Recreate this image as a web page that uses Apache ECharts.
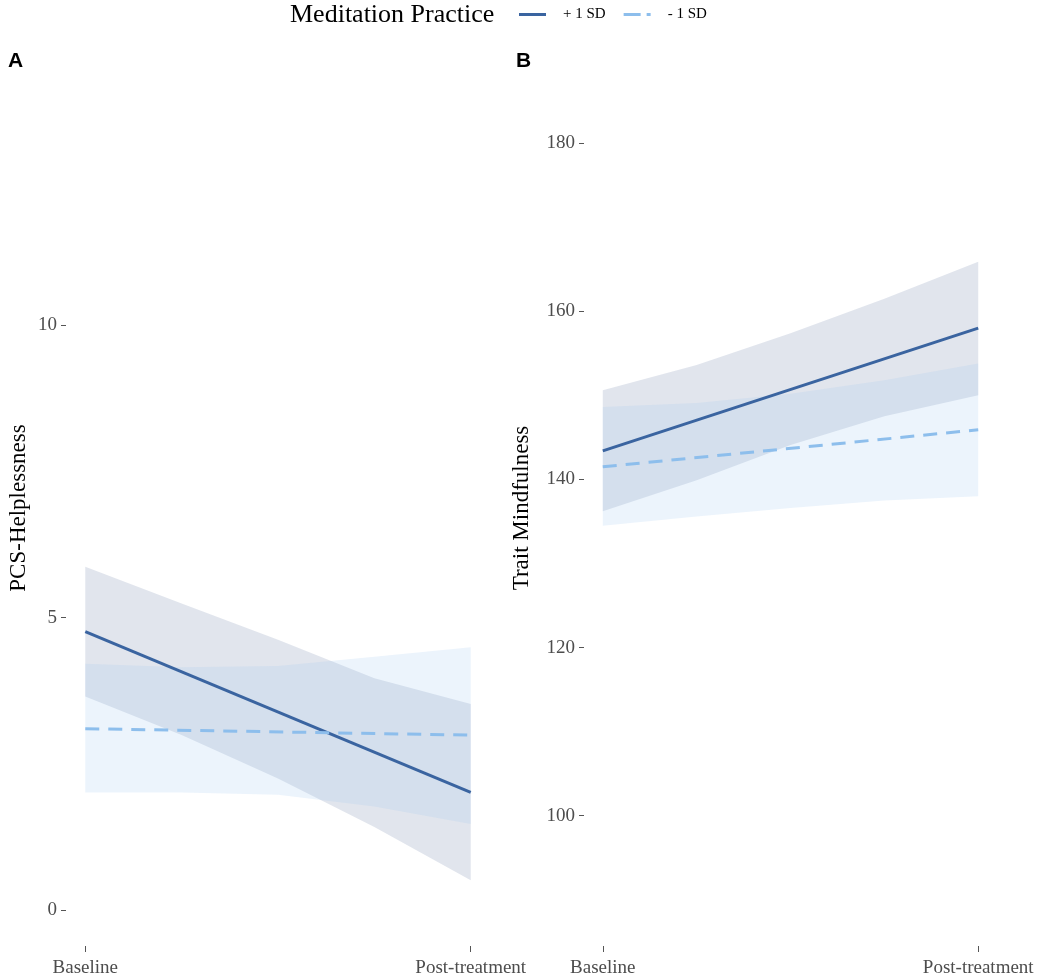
<!DOCTYPE html>
<html>
<head>
<meta charset="utf-8">
<script src="https://cdn.jsdelivr.net/npm/echarts@6/dist/echarts.min.js"></script>
<style>
  html, body { margin: 0; padding: 0; background: #fff; }
  #chart { width: 1050px; height: 979px; }
</style>
</head>
<body>
<div id="chart"></div>
<script>
// time points (0 = Baseline, 1 = Post-treatment)
var timeLabels = ['Baseline', 'Post-treatment'];
var timeEnds = [0, 1];
var bandX = [0, 0.25, 0.5, 0.75, 1];

// A: PCS-Helplessness
var aHighLine = [4.76, 2.01];
var aHighUpper = [5.87, 5.24, 4.62, 3.96, 3.52];
var aHighLower = [3.65, 2.99, 2.25, 1.42, 0.51];
var aLowLine = [3.10, 2.99];
var aLowUpper = [4.21, 4.15, 4.17, 4.33, 4.49];
var aLowLower = [2.01, 2.01, 1.97, 1.77, 1.47];
var aTicks = [0, 5, 10];

// B: Trait Mindfulness
var bHighLine = [143.4, 158.0];
var bHighUpper = [150.6, 153.6, 157.4, 161.5, 165.9];
var bHighLower = [136.2, 139.9, 144.1, 147.5, 150.0];
var bLowLine = [141.5, 145.9];
var bLowUpper = [148.6, 149.1, 150.2, 151.8, 153.8];
var bLowLower = [134.5, 135.6, 136.6, 137.5, 138.0];
var bTicks = [100, 120, 140, 160, 180];

var darkBlue = '#3a64a0';
var lightBlue = '#8dbeec';
var serif = '"Liberation Serif", "DejaVu Serif", serif';

// ribbon polygon through the axis scales
function band(xs, lo, hi, fill, idx) {
    return {
        type: 'custom',
        xAxisIndex: idx,
        yAxisIndex: idx,
        silent: true,
        z: 1,
        data: xs.map(function (x, i) { return [x, lo[i], hi[i]]; }),
        encode: { x: 0, y: [1, 2] },
        renderItem: function (params, api) {
            if (params.dataIndex !== 0) return;
            var pts = [];
            for (var i = 0; i < xs.length; i++) pts.push(api.coord([xs[i], hi[i]]));
            for (var j = xs.length - 1; j >= 0; j--) pts.push(api.coord([xs[j], lo[j]]));
            return { type: 'polygon', shape: { points: pts }, style: { fill: fill } };
        }
    };
}

function fitLine(name, vals, color, dashed, idx) {
    return {
        name: name,
        type: 'line',
        xAxisIndex: idx,
        yAxisIndex: idx,
        z: 3,
        symbol: 'none',
        data: timeEnds.map(function (t, i) { return [t, vals[i]]; }),
        lineStyle: { color: color, width: 3, type: dashed ? [14, 9] : 'solid' },
        itemStyle: { color: color }
    };
}

function xAxisCfg(idx) {
    return {
        type: 'value', gridIndex: idx, min: -0.05, max: 1.05,
        axisLine: { show: false, onZero: false },
        splitLine: { show: false },
        axisTick: { show: true, length: 6, customValues: timeEnds, lineStyle: { color: '#555' } },
        axisLabel: {
            customValues: timeEnds, margin: 13,
            color: '#4d4d4d', fontFamily: serif, fontSize: 19,
            formatter: function (v) { return timeLabels[Math.round(v)]; }
        }
    };
}

function yAxisCfg(idx, name, gap, min, max, ticks) {
    return {
        type: 'value', gridIndex: idx, min: min, max: max,
        name: name, nameLocation: 'middle', nameGap: gap, nameMoveOverlap: false,
        nameTextStyle: { color: '#000', fontFamily: serif, fontSize: 23 },
        axisLine: { show: false, onZero: false },
        splitLine: { show: false },
        axisTick: { show: true, length: 5, customValues: ticks, lineStyle: { color: '#555' } },
        axisLabel: { customValues: ticks, margin: 9, color: '#4d4d4d', fontFamily: serif, fontSize: 19 }
    };
}

var chart = echarts.init(document.getElementById('chart'));
chart.setOption({
    backgroundColor: '#fff',
    animation: false,
    title: [
        { text: 'Meditation Practice', left: 285, top: -3, textStyle: { fontFamily: serif, fontSize: 26, fontWeight: 'normal', color: '#000' } },
        { text: 'A', left: 3, top: 46, textStyle: { fontFamily: '"Liberation Sans", Arial, sans-serif', fontSize: 21, fontWeight: 'bold', color: '#000' } },
        { text: 'B', left: 511, top: 46, textStyle: { fontFamily: '"Liberation Sans", Arial, sans-serif', fontSize: 21, fontWeight: 'bold', color: '#000' } }
    ],
    legend: {
        left: 514, top: 2,
        itemWidth: 27, itemHeight: 3, itemGap: 18,
        data: [
            { name: '+ 1 SD', icon: 'path://M0,0h27v3h-27z', itemStyle: { color: darkBlue } },
            { name: '- 1 SD', icon: 'path://M0,0h17v3h-17z M23,0h4v3h-4z', itemStyle: { color: lightBlue } }
        ],
        textStyle: { fontFamily: serif, fontSize: 15, color: '#000', padding: [0, 0, 0, 12] }
    },
    grid: [
        { left: 66, top: 70, width: 424, height: 876 },
        { left: 584, top: 70, width: 413, height: 876 }
    ],
    xAxis: [xAxisCfg(0), xAxisCfg(1)],
    yAxis: [
        yAxisCfg(0, 'PCS-Helplessness', 36, -0.615, 14.36, aTicks),
        yAxisCfg(1, 'Trait Mindfulness', 51, 84.5, 188.7, bTicks)
    ],
    series: [
        band(bandX, aHighLower, aHighUpper, 'rgba(105,125,165,0.2)', 0),
        band(bandX, aLowLower, aLowUpper, 'rgba(160,200,240,0.2)', 0),
        fitLine('+ 1 SD', aHighLine, darkBlue, false, 0),
        fitLine('- 1 SD', aLowLine, lightBlue, true, 0),
        band(bandX, bHighLower, bHighUpper, 'rgba(105,125,165,0.2)', 1),
        band(bandX, bLowLower, bLowUpper, 'rgba(160,200,240,0.2)', 1),
        fitLine('+ 1 SD', bHighLine, darkBlue, false, 1),
        fitLine('- 1 SD', bLowLine, lightBlue, true, 1)
    ]
});
</script>
</body>
</html>
